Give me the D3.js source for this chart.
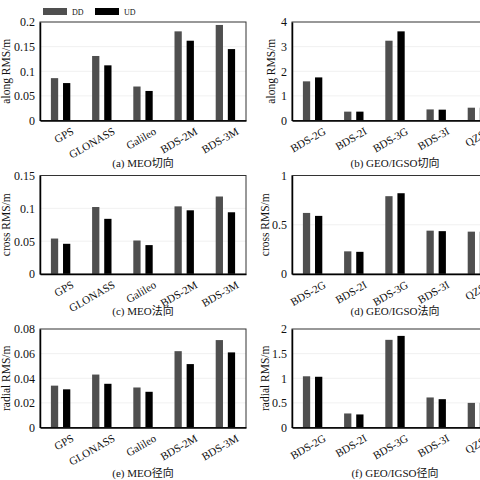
<!DOCTYPE html>
<html>
<head>
<meta charset="utf-8">
<script src="https://cdn.jsdelivr.net/npm/d3@7"></script>
<style>
html,body{margin:0;padding:0;background:#fff;}
svg{display:block;}
</style>
</head>
<body>
<svg id="chart" width="480" height="480"></svg>
<script>
// ---- data ----
const meoCategories = ["GPS", "GLONASS", "Galileo", "BDS-2M", "BDS-3M"];
const geoCategories = ["BDS-2G", "BDS-2I", "BDS-3G", "BDS-3I", "QZSS"];
const seriesNames = ["DD", "UD"];

const meoAlongDD = [0.086, 0.131, 0.069, 0.181, 0.194];
const meoAlongUD = [0.076, 0.112, 0.060, 0.162, 0.145];
const geoAlongDD = [1.59, 0.36, 3.24, 0.45, 0.52];
const geoAlongUD = [1.75, 0.36, 3.62, 0.44, 0.52];

const meoCrossDD = [0.054, 0.102, 0.051, 0.103, 0.118];
const meoCrossUD = [0.046, 0.084, 0.044, 0.097, 0.094];
const geoCrossDD = [0.62, 0.23, 0.79, 0.44, 0.43];
const geoCrossUD = [0.59, 0.225, 0.82, 0.435, 0.43];

const meoRadialDD = [0.034, 0.043, 0.0325, 0.062, 0.071];
const meoRadialUD = [0.031, 0.0355, 0.029, 0.0515, 0.061];
const geoRadialDD = [1.04, 0.285, 1.78, 0.61, 0.50];
const geoRadialUD = [1.03, 0.265, 1.86, 0.575, 0.50];

const meoAlongTicks = [0, 0.05, 0.1, 0.15, 0.2];
const geoAlongTicks = [0, 1, 2, 3, 4];
const meoCrossTicks = [0, 0.05, 0.1, 0.15];
const geoCrossTicks = [0, 0.5, 1];
const meoRadialTicks = [0, 0.02, 0.04, 0.06, 0.08];
const geoRadialTicks = [0, 0.5, 1, 1.5, 2];

const yLabels = ["along RMS/m", "cross RMS/m", "radial RMS/m"];
const captions = ["(a) MEO切向", "(b) GEO/IGSO切向", "(c) MEO法向", "(d) GEO/IGSO法向", "(e) MEO径向", "(f) GEO/IGSO径向"];

const panels = [
  {cats: meoCategories, dd: meoAlongDD, ud: meoAlongUD, ticks: meoAlongTicks, ylab: yLabels[0], cap: captions[0]},
  {cats: geoCategories, dd: geoAlongDD, ud: geoAlongUD, ticks: geoAlongTicks, ylab: yLabels[0], cap: captions[1]},
  {cats: meoCategories, dd: meoCrossDD, ud: meoCrossUD, ticks: meoCrossTicks, ylab: yLabels[1], cap: captions[2]},
  {cats: geoCategories, dd: geoCrossDD, ud: geoCrossUD, ticks: geoCrossTicks, ylab: yLabels[1], cap: captions[3]},
  {cats: meoCategories, dd: meoRadialDD, ud: meoRadialUD, ticks: meoRadialTicks, ylab: yLabels[2], cap: captions[4]},
  {cats: geoCategories, dd: geoRadialDD, ud: geoRadialUD, ticks: geoRadialTicks, ylab: yLabels[2], cap: captions[5]}
];

// ---- layout ----
const colX = [40, 292];
const rowTop = [22, 175.5, 329];
const capOffset = [46.5, 41, 49.5];
const ylabOffset = [-30, -17, -30, -23.5, -30, -23];
const pw = 206, ph = 98.5;
const colors = {DD: "#4f4f4f", UD: "#000000"};
const serif = "'Liberation Serif','Times New Roman',serif";
const cjk = "'Liberation Serif','Noto Sans CJK SC',serif";

const svg = d3.select("#chart");

const fmt = d => String(+d.toFixed(4));

panels.forEach((p, i) => {
  const col = i % 2, row = Math.floor(i / 2);
  const g = svg.append("g").attr("transform", `translate(${colX[col]},${rowTop[row]})`);
  const x = d3.scaleBand().domain(p.cats).range([0, pw]);
  const xs = d3.scaleBand().domain(seriesNames).range([-9.7, 9.7]).paddingInner(0.4);
  const ymax = p.ticks[p.ticks.length - 1];
  const y = d3.scaleLinear().domain([0, ymax]).range([ph, 0]);

  // grid
  g.selectAll("line.grid").data(p.ticks.slice(1, -1)).join("line")
    .attr("x1", 0).attr("x2", pw)
    .attr("y1", d => y(d)).attr("y2", d => y(d))
    .attr("stroke", "#ececec").attr("stroke-width", 0.8);

  // bars
  const groups = g.selectAll("g.grp").data(p.cats).join("g")
    .attr("transform", d => `translate(${x(d) + x.bandwidth() / 2},0)`);
  groups.selectAll("rect").data((d, k) => [{s: "DD", v: p.dd[k]}, {s: "UD", v: p.ud[k]}]).join("rect")
    .attr("x", d => xs(d.s))
    .attr("width", xs.bandwidth())
    .attr("y", d => y(d.v))
    .attr("height", d => ph - y(d.v))
    .attr("fill", d => colors[d.s]);

  // box
  g.append("rect").attr("x", 0).attr("y", 0).attr("width", pw).attr("height", ph)
    .attr("fill", "none").attr("stroke", "#333").attr("stroke-width", 1);

  // y axis
  const ya = d3.axisLeft(y).tickValues(p.ticks).tickFormat(fmt).tickSize(0).tickPadding(5);
  const yg = g.append("g").call(ya);
  yg.select(".domain").attr("stroke", "#000").attr("stroke-width", 1.5);
  yg.selectAll("text").attr("font-family", serif).attr("font-size", 12).attr("fill", "#111");

  // x axis
  const xa = d3.axisBottom(x).tickSize(0).tickPadding(0);
  const xg = g.append("g").attr("transform", `translate(0,${ph})`).call(xa);
  xg.select(".domain").attr("stroke", "#000").attr("stroke-width", 1.5);
  xg.selectAll("text")
    .attr("font-family", serif).attr("font-size", 11).attr("fill", "#111")
    .attr("text-anchor", "end")
    .attr("dy", 0)
    .attr("y", 0)
    .attr("transform", "translate(14,13) rotate(-30)");

  // y label
  g.append("text")
    .attr("transform", `translate(${ylabOffset[i]},${ph / 2}) rotate(-90)`)
    .attr("text-anchor", "middle")
    .attr("font-family", serif).attr("font-size", 11.5).attr("fill", "#111")
    .text(p.ylab);

  // caption
  g.append("text")
    .attr("x", pw / 2).attr("y", ph + capOffset[row])
    .attr("text-anchor", "middle")
    .attr("font-family", cjk).attr("font-size", 11).attr("fill", "#111")
    .text(p.cap);
});

// legend
const legend = svg.append("g").attr("transform", "translate(43,8)");
const legItems = legend.selectAll("g").data(seriesNames).join("g")
  .attr("transform", (d, k) => `translate(${k * 52},0)`);
legItems.append("rect").attr("width", 24).attr("height", 7).attr("fill", d => colors[d]);
legItems.append("text").attr("x", 29).attr("y", 7)
  .attr("font-family", serif).attr("font-size", 8).attr("fill", "#111").text(d => d);
</script>
</body>
</html>
